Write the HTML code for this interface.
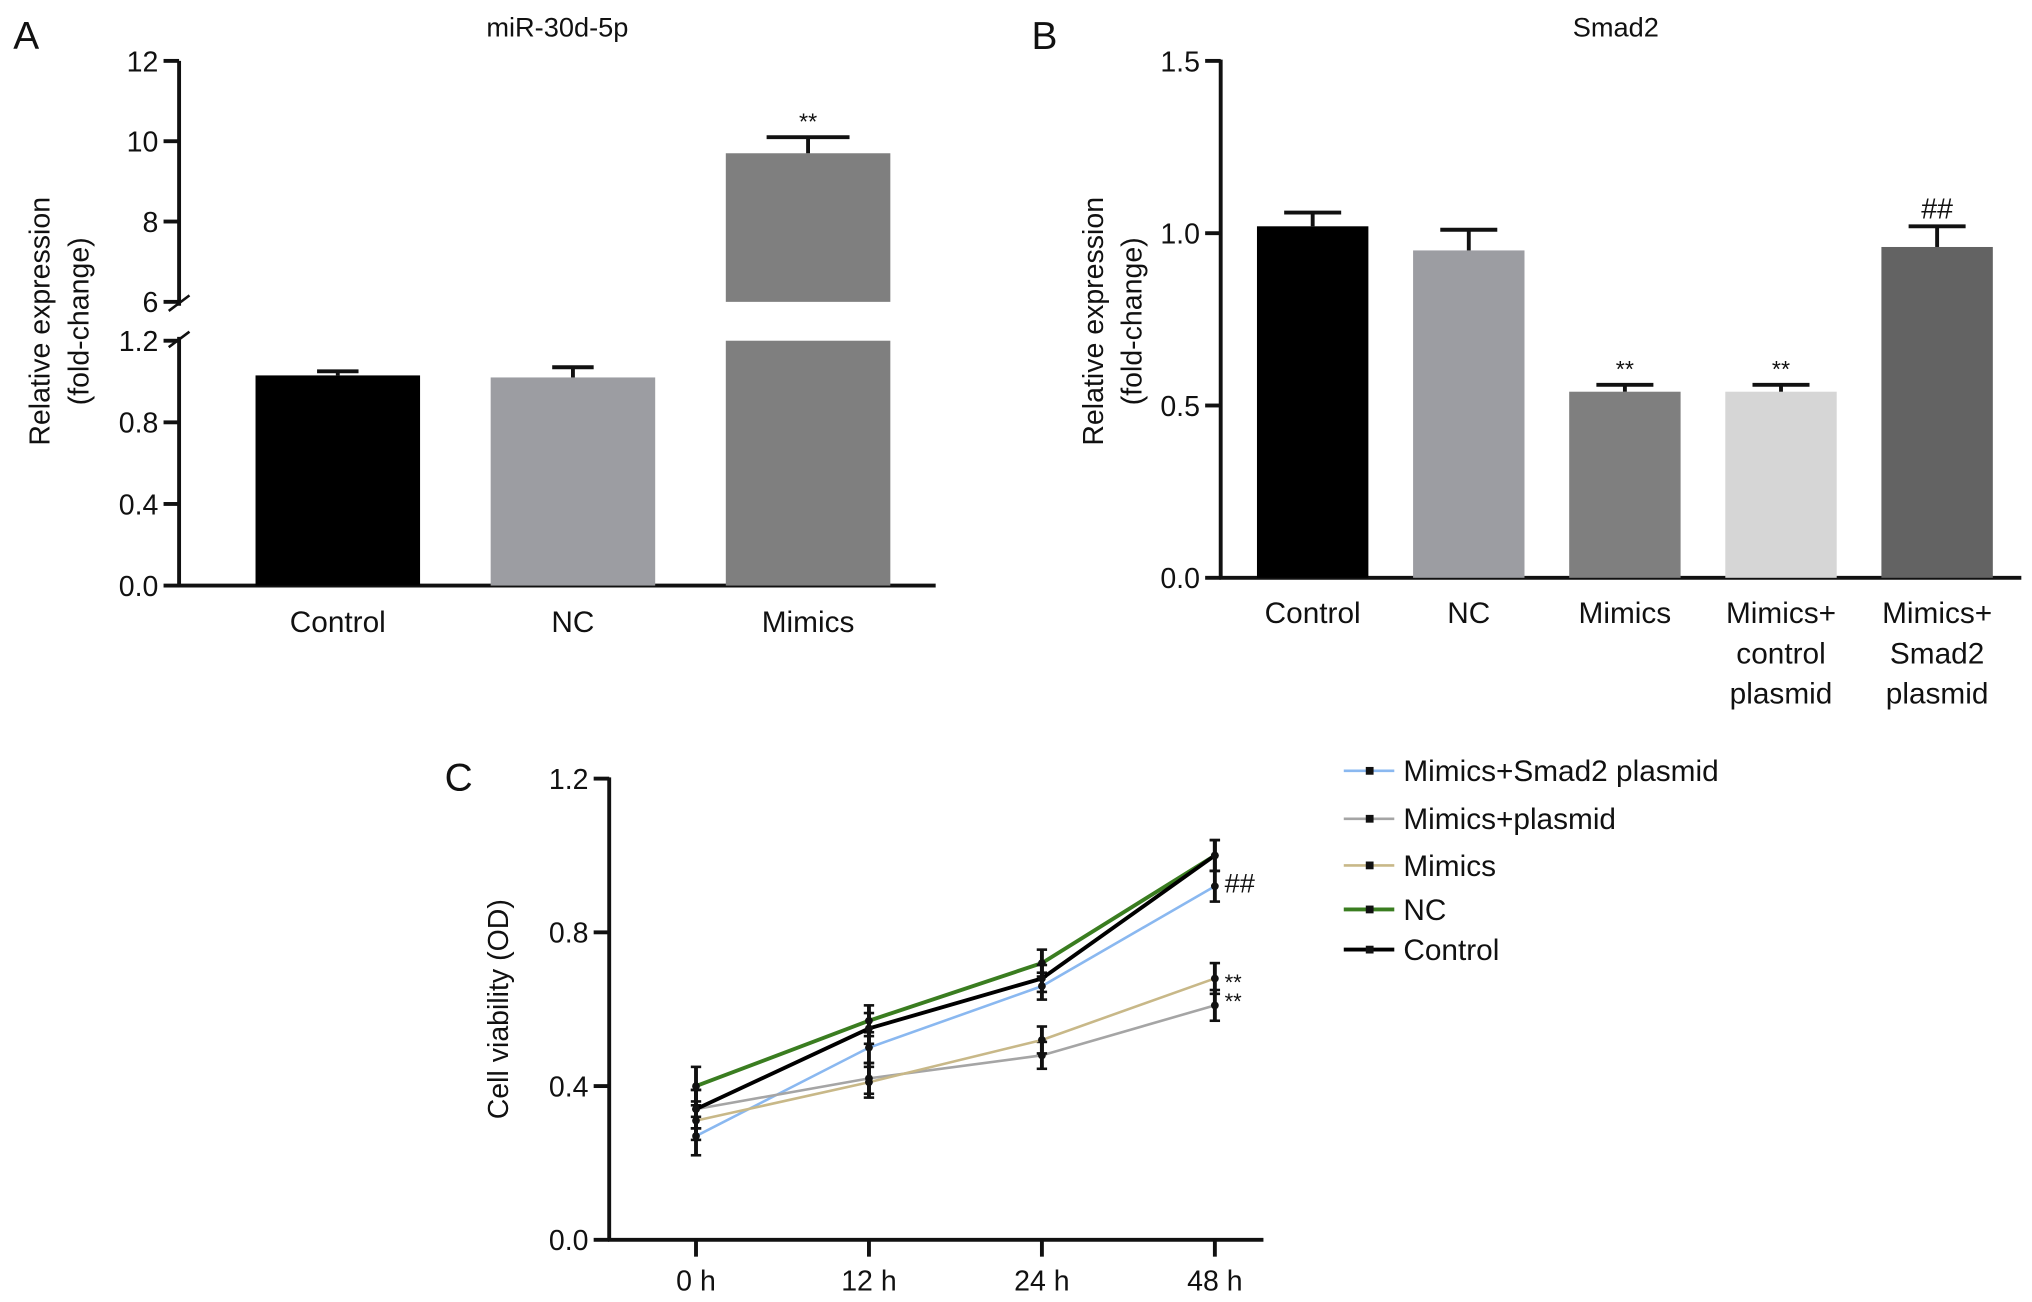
<!DOCTYPE html>
<html><head><meta charset="utf-8"><style>
html,body{margin:0;padding:0;background:#fff;}
svg{display:block;}
text{font-family:"Liberation Sans",Arial,sans-serif;fill:#111;}
</style></head><body>
<svg id="fig" width="2032" height="1302" viewBox="0 0 1568 1005" xmlns="http://www.w3.org/2000/svg"></svg>
<script>
// Panel A data
const aCats=["Control","NC","Mimics"];
const aVals=[1.03,1.02,9.7];
const aErr=[0.02,0.05,0.4];
const aColors=["#000000","#9c9da2","#7f7f7f"];
// Panel B data
const bCats=[["Control"],["NC"],["Mimics"],["Mimics+","control","plasmid"],["Mimics+","Smad2","plasmid"]];
const bVals=[1.02,0.95,0.54,0.54,0.96];
const bErr=[0.04,0.06,0.02,0.02,0.06];
const bColors=["#000000","#9c9da2","#7f7f7f","#d6d6d6","#636363"];
const bMarks=["","","**","**","##"];
// Panel C data
const cTimes=["0 h","12 h","24 h","48 h"];
const cNames=["Mimics+Smad2 plasmid","Mimics+plasmid","Mimics","NC","Control"];
const cSmad=[0.27,0.50,0.66,0.92];
const cPlas=[0.34,0.42,0.48,0.61];
const cMim=[0.31,0.41,0.52,0.68];
const cNC=[0.40,0.57,0.72,1.00];
const cCtl=[0.34,0.55,0.68,1.00];
const cErr=[0.05,0.04,0.035,0.04];
const cColors=["#8ab8f0","#a5a5a5","#c8b888","#3a7d20","#000000"];

const NS="http://www.w3.org/2000/svg";
const svg=document.getElementById('fig');
function el(t,a,p){const e=document.createElementNS(NS,t);for(const k in a)e.setAttribute(k,a[k]);(p||svg).appendChild(e);return e;}
function txt(x,y,s,size,anchor,p,rot){const e=el('text',{x:x,y:y,'font-size':size,'text-anchor':anchor||'middle'},p);if(rot)e.setAttribute('transform',rot);e.textContent=s;return e;}
function line(x1,y1,x2,y2,w,c,p){return el('line',{x1,y1,x2,y2,stroke:c||'#111','stroke-width':w||3},p);}

// ===== Panel A =====
const gA=el('g',{});

const t=txt(10,38,"A",30,'start',gA);
const tA=txt(430,28,"miR-30d-5p",21,'middle',gA);
const ayLo=v=>452-v*(452-263)/1.2;
const ayHi=v=>233-(v-6)*(233-47)/6;
const aX=i=>197+i*181.5;
const aW=127;
line(138,47,138,236,3,'#111',gA);line(138,260,138,453,3,'#111',gA);
line(137,452,722,452,3,'#111',gA);
[12,10,8,6].forEach(v=>{line(126,ayHi(v),138,ayHi(v),3,'#111',gA);txt(122,ayHi(v)+8,String(v),22,'end',gA);});
[1.2,0.8,0.4,0.0].forEach(v=>{line(126,ayLo(v),138,ayLo(v),3,'#111',gA);txt(122,ayLo(v)+8,v.toFixed(1),22,'end',gA);});
line(130,240,146,228,2,'#111',gA);line(130,268,146,256,2,'#111',gA);
const ayt=txt(0,0,"Relative expression",22,'middle',gA,'translate(38,248) rotate(-90)');
txt(0,0,"(fold-change)",22,'middle',gA,'translate(68,248) rotate(-90)');
aVals.forEach((v,i)=>{
  const x=aX(i);
  if(v<=1.2){
    const r=el('rect',{x:x,y:ayLo(v),width:aW,height:452-ayLo(v),fill:aColors[i]},gA);
    
    const e=ayLo(v+aErr[i]);line(x+aW/2,ayLo(v),x+aW/2,e,3,'#111',gA);line(x+aW/2-16,e,x+aW/2+16,e,3,'#111',gA);
  }else{
    const r=el('rect',{x:x,y:ayLo(1.2),width:aW,height:452-ayLo(1.2),fill:aColors[i]},gA);
    
    const r2=el('rect',{x:x,y:ayHi(v),width:aW,height:ayHi(6)-ayHi(v),fill:aColors[i]},gA);
    
    const e=ayHi(v+aErr[i]);line(x+aW/2,ayHi(v),x+aW/2,e,3,'#111',gA);line(x+aW/2-32,e,x+aW/2+32,e,3,'#111',gA);
    txt(x+aW/2,e-6,"**",18,'middle',gA);
  }
  const lb=txt(x+aW/2,488,aCats[i],23,'middle',gA);
});

// ===== Panel B =====
const gB=el('g',{});

txt(796,38,"B",30,'start',gB);
const tB=txt(1247,28,"Smad2",21,'middle',gB);
const by=v=>446-v*(446-47)/1.5;
const bX=i=>970+i*120.5;const bW=86;
line(942,46,942,447,3,'#111',gB);line(941,446,1560,446,3,'#111',gB);
[1.5,1.0,0.5,0.0].forEach(v=>{line(930,by(v),942,by(v),3,'#111',gB);txt(926,by(v)+8,v.toFixed(1),22,'end',gB);});
txt(0,0,"Relative expression",22,'middle',gB,'translate(851,248) rotate(-90)');
txt(0,0,"(fold-change)",22,'middle',gB,'translate(881,248) rotate(-90)');
bVals.forEach((v,i)=>{
  const x=bX(i);
  const r=el('rect',{x:x,y:by(v),width:bW,height:446-by(v),fill:bColors[i]},gB);
  
  const e=by(v+bErr[i]);line(x+bW/2,by(v),x+bW/2,e,3,'#111',gB);line(x+bW/2-22,e,x+bW/2+22,e,3,'#111',gB);
  if(bMarks[i])txt(x+bW/2,e-6,bMarks[i],bMarks[i]=="##"?22:18,'middle',gB);
  bCats[i].forEach((s,j)=>txt(x+bW/2,481+j*31,s,23,'middle',gB));
});

// ===== Panel C =====
const gC=el('g',{});

txt(343,610,"C",30,'start',gC);
const cy=v=>957-v*(957-601)/1.2;
const cx=i=>537+i*133.5;
line(470,600,470,958,3,'#111',gC);line(469,957,975,957,3,'#111',gC);
[1.2,0.8,0.4,0.0].forEach(v=>{line(458,cy(v),470,cy(v),3,'#111',gC);txt(454,cy(v)+8,v.toFixed(1),22,'end',gC);});
cTimes.forEach((s,i)=>{line(cx(i),957,cx(i),970,3,'#111',gC);txt(cx(i),996,s,22,'middle',gC);});
txt(0,0,"Cell viability (OD)",22,'middle',gC,'translate(392,779) rotate(-90)');
const series=[cSmad,cPlas,cMim,cNC,cCtl];
series.forEach((vals,s)=>{
  const pts=vals.map((v,i)=>cx(i)+','+cy(v)).join(' ');
  const pl=el('polyline',{points:pts,fill:'none',stroke:cColors[s],'stroke-width':(s>=3?3:2)},gC);
  
  vals.forEach((v,i)=>{
    const t1=cy(v+cErr[i]),t2=cy(v-cErr[i]);
    line(cx(i),t1,cx(i),t2,3,'#111',gC);line(cx(i)-4,t1,cx(i)+4,t1,2,'#111',gC);line(cx(i)-4,t2,cx(i)+4,t2,2,'#111',gC);
    el('circle',{cx:cx(i),cy:cy(v),r:3,fill:'#111'},gC);
  });
});
txt(945,689,"##",21,'start',gC);
txt(945,764,"**",17,'start',gC);txt(945,779,"**",17,'start',gC);
cNames.forEach((n,i)=>{
  const y=[595,632,668,702,733][i];
  const lg=el('g',{},gC);
  
  line(1037,y,1076,y,i>=3?3:2,cColors[i],lg);
  el('rect',{x:1054,y:y-3,width:6,height:6,fill:'#111'},lg);
  txt(1083,y+8,n,23,'start',lg);
});
</script>
</body></html>
